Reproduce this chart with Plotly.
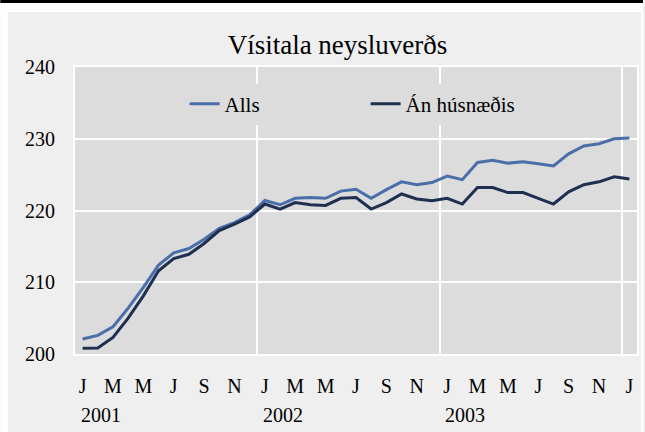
import plotly.graph_objects as go

# ---- data ----
months = [f"{y}-{m:02d}" for y in (2001, 2002, 2003) for m in range(1, 13)] + ["2004-01"]
alls = [202.1, 202.6, 203.8, 206.4, 209.3, 212.4, 214.1, 214.7, 216.0, 217.5, 218.3, 219.4,
        221.4, 220.8, 221.7, 221.8, 221.7, 222.7, 222.95, 221.7, 222.9, 224.0, 223.6, 223.9,
        224.8, 224.3, 226.7, 227.0, 226.6, 226.8, 226.5, 226.2, 227.9, 229.0, 229.3, 230.0, 230.1]
an_husn = [200.8, 200.85, 202.3, 205.0, 208.1, 211.6, 213.3, 213.9, 215.4, 217.2, 218.1, 219.1,
           220.9, 220.2, 221.1, 220.8, 220.7, 221.7, 221.8, 220.2, 221.1, 222.3, 221.6, 221.35,
           221.7, 220.9, 223.2, 223.2, 222.5, 222.5, 221.7, 220.9, 222.6, 223.6, 224.0, 224.7, 224.4]
tick_labels = ["J", "M", "M", "J", "S", "N"] * 3 + ["J"]
years = ["2001", "2002", "2003"]
series_names = ["Alls", "Án húsnæðis"]
title_text = "Vísitala neysluverðs"

# ---- layout geometry ----
W, H = 645, 432
L, R, T, B = 75, 6, 67, 78
pw, ph = W - L - R, H - T - B

def px_x(px):
    return (px - L) / pw

def px_y(py):
    return (H - B - py) / ph

x = list(range(len(months)))
FONT = "Liberation Serif"

fig = go.Figure()
fig.add_trace(go.Scatter(x=x, y=alls, mode="lines", name=series_names[0],
                         line=dict(color="#4a6fa8", width=3)))
fig.add_trace(go.Scatter(x=x, y=an_husn, mode="lines", name=series_names[1],
                         line=dict(color="#1e2f4f", width=3)))

shapes = [
    dict(type="rect", xref="paper", yref="paper", x0=px_x(0), x1=px_x(W), y0=px_y(12), y1=px_y(0),
         fillcolor="white", line_width=0, layer="below"),
    dict(type="rect", xref="paper", yref="paper", x0=px_x(0), x1=px_x(8), y0=px_y(H), y1=px_y(0),
         fillcolor="white", line_width=0, layer="below"),
    dict(type="rect", xref="paper", yref="paper", x0=px_x(643), x1=px_x(W), y0=px_y(H), y1=px_y(0),
         fillcolor="white", line_width=0, layer="below"),
    dict(type="rect", xref="paper", yref="paper", x0=px_x(0), x1=px_x(W), y0=px_y(3), y1=px_y(0),
         fillcolor="black", line_width=0, layer="below"),
]

annotations = []
for k, yr in enumerate(years):
    annotations.append(dict(x=12 * k, y=px_y(415), xref="x", yref="paper", text=yr,
                            showarrow=False, xanchor="left", yanchor="middle", xshift=-4,
                            font=dict(family=FONT, size=20, color="black")))

fig.update_layout(
    width=W, height=H,
    margin=dict(l=L, r=R, t=T, b=B),
    paper_bgcolor="#efefef",
    plot_bgcolor="#dcdcdc",
    font=dict(family=FONT, size=20, color="black"),
    title=dict(text=title_text, xref="container", yref="container",
               x=337.5 / W, y=1 - 45 / H, xanchor="center", yanchor="middle",
               font=dict(family=FONT, size=27, color="black")),
    showlegend=True,
    legend=dict(orientation="h", x=px_x(185), y=px_y(104), xanchor="left", yanchor="middle",
                bgcolor="#dcdcdc", borderwidth=0, entrywidth=136, entrywidthmode="pixels",
                font=dict(family=FONT, size=21, color="black")),
    xaxis=dict(range=[-0.5, len(months) - 0.5], tickmode="array", tickvals=x[::2],
               ticktext=tick_labels, showgrid=False, zeroline=False, ticks="",
               ticklabelstandoff=13, tickfont=dict(family=FONT, size=20),
               showline=True, linecolor="white", linewidth=2, mirror=True,
               minor=dict(tick0=-0.5, dtick=12, showgrid=True, gridcolor="white",
                          gridwidth=2, ticks=""),
               fixedrange=True),
    yaxis=dict(range=[200, 240], tickmode="array", tickvals=[200, 210, 220, 230, 240],
               showgrid=True, gridcolor="white", gridwidth=2, zeroline=False, ticks="",
               ticklabelstandoff=14, tickfont=dict(family=FONT, size=20),
               showline=True, linecolor="white", linewidth=2, mirror=True, fixedrange=True),
    shapes=shapes,
    annotations=annotations,
)

fig.write_html("out.html", config={"displayModeBar": False},
               post_script="document.body.style.margin='0';document.body.style.overflow='hidden';")
